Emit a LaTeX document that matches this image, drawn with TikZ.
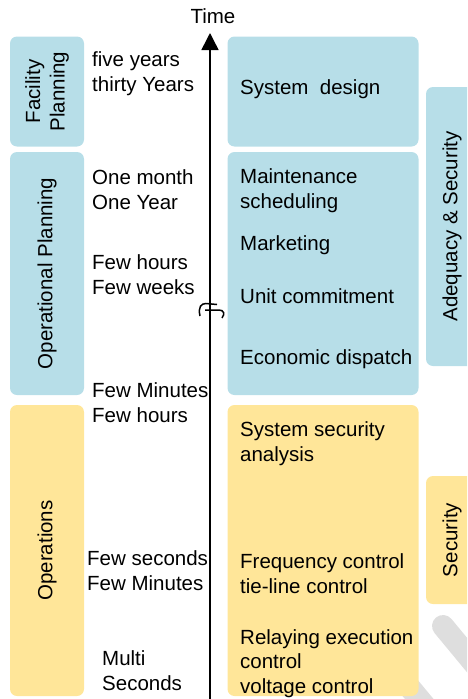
\documentclass[tikz,border=0pt]{standalone}
\usepackage{fontspec}
\setmainfont{Liberation Sans}
\usetikzlibrary{arrows.meta}
\definecolor{b1}{HTML}{B7DEE8}
\definecolor{y1}{HTML}{FFE699}
\definecolor{g1}{HTML}{DEDEDE}

\begin{document}
\begin{tikzpicture}[x=1pt,y=-1pt,
	box/.style={rounded corners=7pt,inner sep=0pt,outer sep=0pt},
	lbl/.style={anchor=base west,inner sep=0pt,align=left,font=\fontsize{20.5}{24.5}\selectfont},
	vlbl/.style={rotate=90,align=center,font=\fontsize{20.5}{24.5}\selectfont}]
	\useasboundingbox (0,0) rectangle (467,699);
	\clip (0,0) rectangle (467,699);

	% faint marks behind the boxes
	\draw [g1,line width=22pt,line cap=round] (443,626) -- (520,719);
	\draw [g1,line width=22pt] (362,630) -- (440,724);

	\begin{scope}
	\node [box,fill=b1,vlbl,minimum width=110pt,minimum height=74pt] (facility) at (47,91.5) {Facility\\Planning};
	\node [box,fill=b1,vlbl,minimum width=243pt,minimum height=74pt] (opplan) at (47,273.5) {Operational Planning};
	\node [box,fill=y1,vlbl,minimum width=291pt,minimum height=74pt] (oper) at (47,550.5) {Operations};
	\end{scope}

	\begin{scope}
	\node [box,fill=b1,minimum width=191pt,minimum height=110pt] (design) at (323,91.5) {};
	\node [box,fill=b1,minimum width=191pt,minimum height=243pt] (sched) at (323,273.5) {};
	\node [box,fill=y1,minimum width=191pt,minimum height=291pt] (control) at (323,550.5) {};
	\node [box,fill=b1,vlbl,minimum width=279pt,minimum height=52pt] (adequacy) at (452,226.5) {Adequacy \& Security};
	\node [box,fill=y1,vlbl,minimum width=128pt,minimum height=52pt] (security) at (452,540) {Security};
	\end{scope}

	% time scale (base = last line)
	\node [lbl] (t1) at (92,91) {five years\\thirty Years};
	\node [lbl] (t2) at (92,209) {One month\\One Year};
	\node [lbl] (t3) at (92,294) {Few hours\\Few weeks};
	\node [lbl] (t4) at (92,422) {Few Minutes\\Few hours};
	\node [lbl] (t5) at (87,590) {Few seconds\\Few Minutes};
	\node [lbl] (t6) at (102,690) {Multi\\Seconds};

	% tasks
	\node [lbl] (a1) at (240,94) {System\ \ design};
	\node [lbl] (a2) at (240,208) {Maintenance\\scheduling};
	\node [lbl] (a3) at (240,250) {Marketing};
	\node [lbl] (a4) at (240,303) {Unit commitment};
	\node [lbl] (a5) at (240,364) {Economic dispatch};
	\node [lbl] (a6) at (240,461) {System security\\analysis};
	\node [lbl] (a7) at (240,593) {Frequency control\\tie-line control};
	\node [lbl] (a8) at (240,693) {Relaying execution\\control\\voltage control};

	\coordinate (tbot) at (210,699);
	\coordinate (ttop) at (210,33);
	\draw [-{Triangle[width=17pt,length=17pt]},line width=1.5pt] (tbot) -- (ttop);
	\node [font=\fontsize{20.5}{24.5}\selectfont] (time) at (213,16) {Time};
	% axis break
	\draw [line width=1.5pt] (200,316) .. controls (198,307) and (201,303.5) .. (206,303.5) -- (217,304.5);
	\draw [line width=1.5pt] (205,310) -- (219,310) .. controls (224,310) and (225,314) .. (222,318);
\end{tikzpicture}
\end{document}
